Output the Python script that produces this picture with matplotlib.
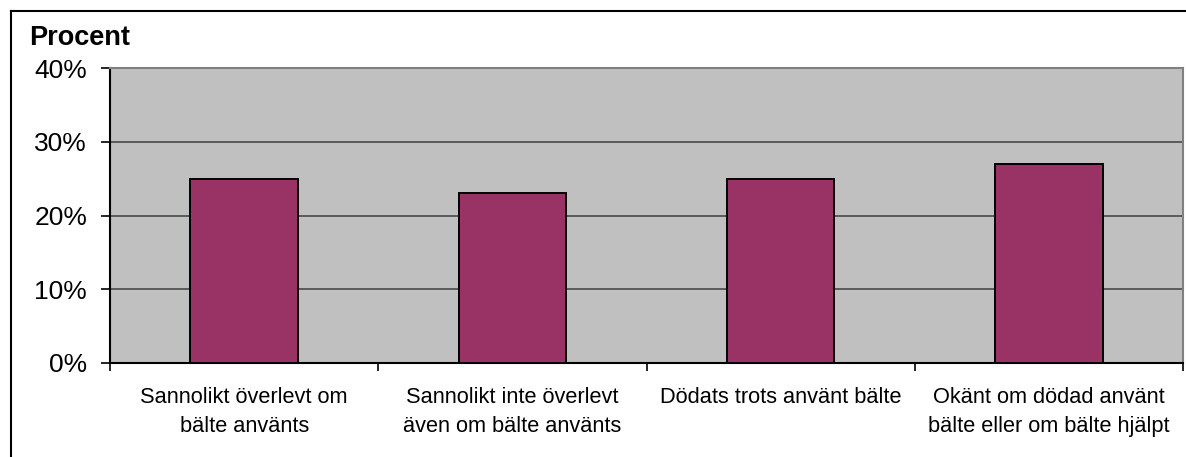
import numpy as np
import matplotlib
matplotlib.use("Agg")
import matplotlib.pyplot as plt
from matplotlib.lines import Line2D

plt.rcParams['font.family'] = ['Liberation Sans', 'DejaVu Sans']

categories = ["Sannolikt överlevt om\nbälte använts",
              "Sannolikt inte överlevt\näven om bälte använts",
              "Dödats trots använt bälte",
              "Okänt om dödad använt\nbälte eller om bälte hjälpt"]
values = [25, 23, 25, 27]
yticks = [0, 10, 20, 30, 40]
ytick_labels = ["0%", "10%", "20%", "30%", "40%"]

fig = plt.figure(figsize=(11.86, 4.57), dpi=100)
ax = fig.add_axes([110 / 1186, 1 - 363 / 457, (1183 - 110) / 1186, (363 - 68) / 457])

x = np.arange(len(categories))
ax.set_facecolor("#c0c0c0")
ax.set_axisbelow(True)
ax.yaxis.grid(True, color="#404040", linewidth=1.1)
ax.bar(x, values, width=0.4, color="#993366", edgecolor="black", linewidth=1.4, zorder=3)

ax.set_xlim(-0.5, len(categories) - 0.5)
ax.set_ylim(0, 40)
ax.set_yticks(yticks)
ax.set_yticklabels(ytick_labels, fontsize=19)
ax.tick_params(axis="y", length=6.5, width=1.2, color="black", pad=10)

# category boundaries as major ticks, labels on minor ticks
ax.set_xticks(np.arange(-0.5, len(categories), 1.0))
ax.set_xticklabels([])
ax.set_xticks(x, minor=True)
ax.set_xticklabels(categories, minor=True, fontsize=15.7, linespacing=1.5)
ax.tick_params(axis="x", which="major", length=6, width=1.2, color="black")
ax.tick_params(axis="x", which="minor", length=0, pad=17)

for side in ["left", "bottom"]:
    ax.spines[side].set_color("black")
    ax.spines[side].set_linewidth(1.5)
for side in ["top", "right"]:
    ax.spines[side].set_color("#808080")
    ax.spines[side].set_linewidth(1.5)

fig.text(29 / 1186, 1 - 45 / 457, "Procent", fontsize=19.5, fontweight="bold",
         ha="left", va="baseline")

# outer chart border (left and top only visible)
fig.add_artist(Line2D([11 / 1186, 11 / 1186], [0, 1 - 11 / 457], color="black",
                      linewidth=1.5, transform=fig.transFigure))
fig.add_artist(Line2D([11 / 1186, 1], [1 - 11 / 457, 1 - 11 / 457], color="black",
                      linewidth=1.5, transform=fig.transFigure))

fig.savefig("out.png", dpi=100, facecolor="white")
